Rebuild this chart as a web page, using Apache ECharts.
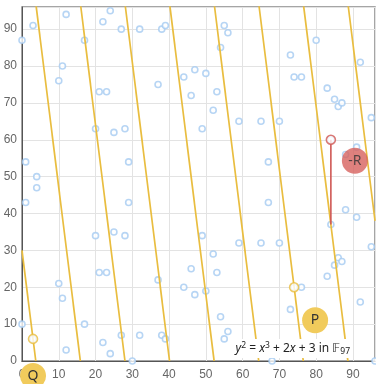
<!DOCTYPE html>
<html>
<head>
<meta charset="utf-8">
<script src="https://cdn.jsdelivr.net/npm/echarts@6/dist/echarts.min.js"></script>
<style>
  html, body { margin: 0; padding: 0; background: #fff; }
  #main { width: 376px; height: 384px; }
</style>
</head>
<body>
<div id="main"></div>
<script>
// points of y^2 = x^3 + 2x + 3 over F97
const curvePoints = [
  [0, 10], [0, 87], [1, 43], [1, 54], [3, 6], [3, 91], [4, 47], [4, 50],
  [10, 21], [10, 76], [11, 17], [11, 80], [12, 3], [12, 94], [17, 10], [17, 87],
  [20, 34], [20, 63], [21, 24], [21, 73], [22, 5], [22, 92], [23, 24], [23, 73],
  [24, 2], [24, 95], [25, 35], [25, 62], [27, 7], [27, 90], [28, 34], [28, 63],
  [29, 43], [29, 54], [30, 0], [32, 7], [32, 90], [37, 22], [37, 75], [38, 7],
  [38, 90], [39, 6], [39, 91], [44, 20], [44, 77], [46, 25], [46, 72], [47, 18],
  [47, 79], [49, 34], [49, 63], [50, 19], [50, 78], [52, 29], [52, 68], [53, 24],
  [53, 73], [54, 12], [54, 85], [55, 6], [55, 91], [56, 8], [56, 89], [59, 32],
  [59, 65], [65, 32], [65, 65], [67, 43], [67, 54], [68, 0], [70, 32], [70, 65],
  [73, 14], [73, 83], [74, 20], [74, 77], [76, 20], [76, 77], [80, 10], [80, 87],
  [83, 23], [83, 74], [84, 37], [84, 60], [85, 26], [85, 71], [86, 28], [86, 69],
  [87, 27], [87, 70], [88, 41], [88, 56], [91, 39], [91, 58], [92, 16], [92, 81],
  [95, 31], [95, 66], [96, 0]
];

// the line through P and Q, wrapped mod 97 (slope -8)
const lineSegments = [
  [[0, 30], [3.75, 0]],
  [[3.75, 97], [15.875, 0]],
  [[15.875, 97], [28, 0]],
  [[28, 97], [40.125, 0]],
  [[40.125, 97], [52.25, 0]],
  [[52.25, 97], [64.375, 0]],
  [[64.375, 97], [76.5, 0]],
  [[76.5, 97], [88.625, 0]],
  [[88.625, 97], [96, 38]]
];

const pointQ = [3, 6];
const pointP = [74, 20];
const pointR = [84, 37];
const pointSum = [84, 60];

const yellow = '#e9bd3f';
const red = '#cf5754';

const chart = echarts.init(document.getElementById('main'));

const labelStyle = {
  show: true,
  position: 'inside',
  color: '#333',
  fontSize: 14,
  fontFamily: 'Noto Sans'
};

const series = [];

lineSegments.forEach(function (seg) {
  series.push({
    type: 'line',
    data: seg,
    symbol: 'none',
    silent: true,
    z: 3,
    lineStyle: { color: yellow, width: 1.7 }
  });
});

series.push({
  type: 'line',
  data: [pointR, pointSum],
  symbol: 'none',
  silent: true,
  z: 3,
  lineStyle: { color: red, width: 1.6 }
});

series.push({
  type: 'scatter',
  data: curvePoints,
  symbol: 'circle',
  symbolSize: 6,
  z: 2,
  itemStyle: { color: '#fff', borderColor: '#a5cbf1', borderWidth: 1.6 }
});

series.push({
  type: 'scatter',
  data: [pointQ, pointP],
  symbolSize: 9,
  z: 4,
  itemStyle: { color: '#fff', borderColor: yellow, borderWidth: 1.6 }
});

series.push({
  type: 'scatter',
  data: [pointSum],
  symbolSize: 9,
  z: 4,
  itemStyle: { color: '#fff', borderColor: red, borderWidth: 1.6 }
});

// big labels
series.push({
  type: 'scatter',
  clip: false,
  z: 5,
  symbolSize: 26,
  data: [
    { value: pointQ, symbolOffset: [0, 37], label: { formatter: 'Q' } },
    { value: pointP, symbolOffset: [21, 33], label: { formatter: 'P' } }
  ],
  itemStyle: { color: '#f1cb5c', opacity: 1 },
  label: labelStyle
});

series.push({
  type: 'scatter',
  clip: false,
  z: 5,
  symbolSize: 26,
  data: [
    { value: pointSum, symbolOffset: [24, 21], label: { formatter: '-R' } }
  ],
  itemStyle: { color: '#d7615e' },
  label: labelStyle
});

const option = {
  animation: false,
  title: {
    text: '{i|y}{sup|2} = {i|x}{sup|3} + 2{i|x} + 3 in 𝔽{sub|97}',
    right: 24,
    bottom: 26,
    padding: [2, 2],
    backgroundColor: '#fff',
    textStyle: {
      fontSize: 12,
      fontWeight: 'normal',
      color: '#222',
      fontFamily: 'Noto Sans',
      rich: {
        i: { fontStyle: 'italic', fontSize: 12, color: '#222', fontFamily: 'Noto Sans' },
        sup: { fontSize: 8.5, verticalAlign: 'top', padding: [0, 0, 6, 0], color: '#222', fontFamily: 'Noto Sans' },
        sub: { fontSize: 8.5, verticalAlign: 'bottom', padding: [5, 0, 0, 0], color: '#222', fontFamily: 'Noto Sans' }
      }
    }
  },
  grid: {
    left: 22,
    right: 1,
    top: 7,
    bottom: 23,
    show: true,
    borderColor: '#888',
    borderWidth: 1.5
  },
  xAxis: {
    type: 'value',
    min: 0,
    max: 96,
    interval: 10,
    axisLine: { lineStyle: { color: '#555' } },
    axisTick: { show: false },
    axisLabel: { color: '#666', fontSize: 12, showMaxLabel: false },
    splitLine: { lineStyle: { color: '#e3e3e3' } }
  },
  yAxis: {
    type: 'value',
    min: 0,
    max: 96,
    interval: 10,
    axisLine: { show: true, lineStyle: { color: '#555' } },
    axisTick: { show: false },
    axisLabel: { color: '#666', fontSize: 12, margin: 5, showMaxLabel: false },
    splitLine: { lineStyle: { color: '#e3e3e3' } }
  },
  series: series
};

chart.setOption(option);
</script>
</body>
</html>
